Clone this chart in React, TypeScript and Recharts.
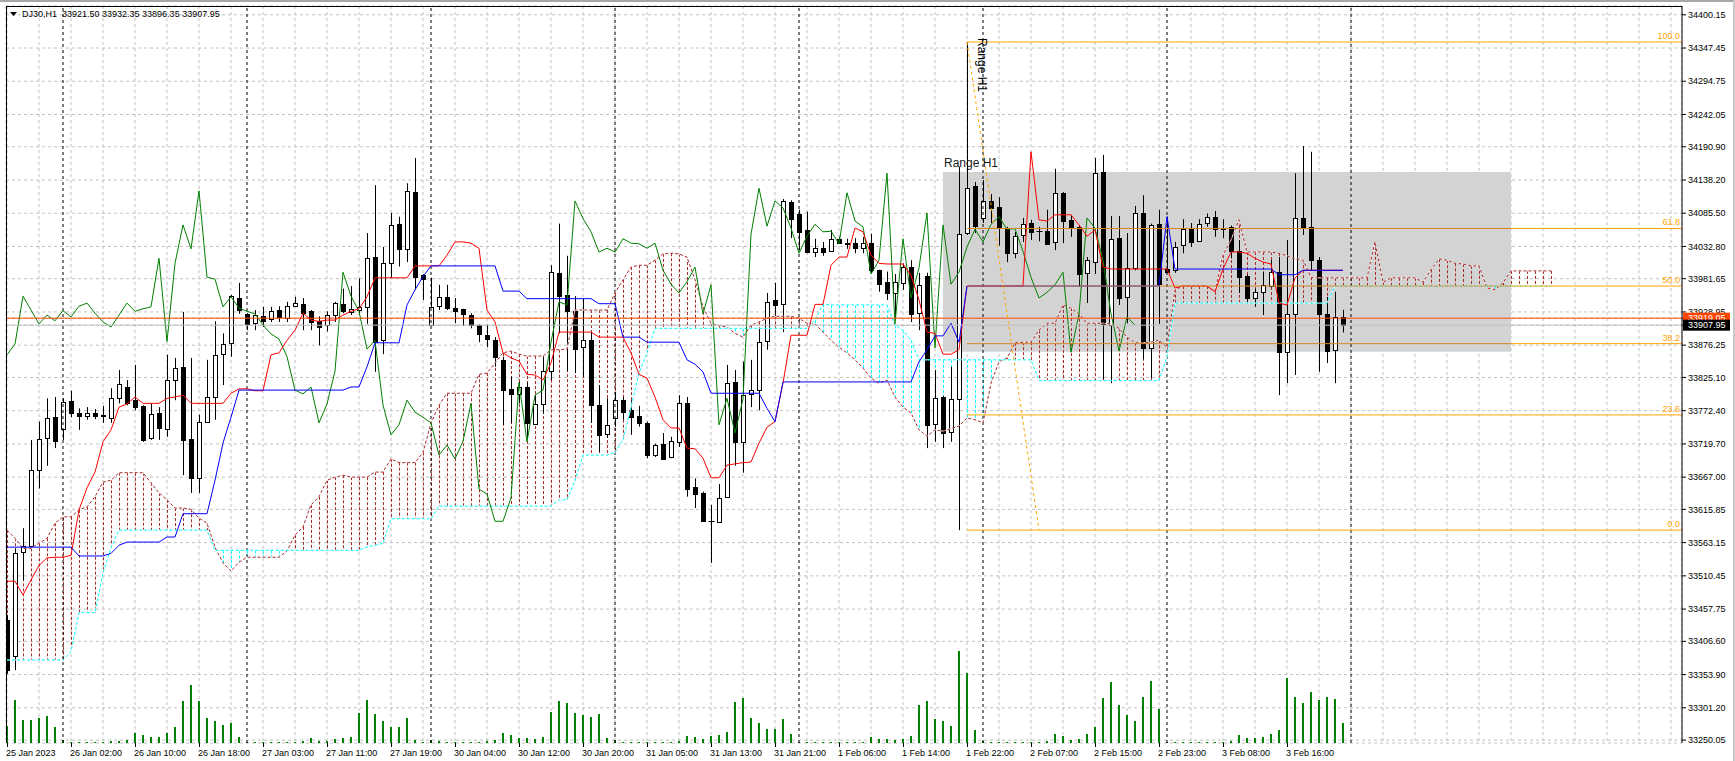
import React from 'react'
import {
  ComposedChart,
  Bar,
  Line,
  XAxis,
  YAxis,
  CartesianGrid,
  ReferenceLine,
  ReferenceArea,
  ReferenceDot,
} from 'recharts'

const FONT = '"Liberation Sans", Arial, sans-serif'

// one bar per hour, bar 0 = 25 Jan 17:00, last bar = 3 Feb 23:00
const opens = [
  33440, 33383, 33548, 33558, 33678, 33729, 33762, 33744, 33788, 33768,
  33764, 33768, 33765, 33761, 33792, 33810, 33789, 33780, 33729, 33768,
  33744, 33821, 33842, 33728, 33665, 33755, 33794, 33862, 33880, 33951,
  33926, 33911, 33922, 33918, 33932, 33919, 33938, 33941, 33930, 33914,
  33908, 33924, 33941, 33929, 33932, 33937, 34016, 33884, 34006, 34068,
  34028, 34119, 33987, 33908, 33938, 33953, 33935, 33934, 33924, 33908,
  33892, 33884, 33853, 33807, 33799, 33810, 33752, 33783, 33835, 33991,
  33956, 33930, 33873, 33884, 33781, 33736, 33761, 33789, 33773, 33764,
  33753, 33702, 33720, 33699, 33723, 33784, 33651, 33642, 33598, 33596,
  33636, 33818, 33723, 33799, 33805, 33883, 33948, 33942, 34103, 34085,
  34059, 34024, 34030, 34025, 34045, 34038, 34038, 34030, 34038, 33995,
  33977, 33959, 33975, 34000, 33927, 33986, 33752, 33794, 33739, 33791,
  34054, 34129, 34078, 34105, 34095, 34062, 34022, 34051, 34070, 34058,
  34057, 34040, 34118, 34075, 34064, 33991, 34008, 34151, 33908, 34046,
  33953, 33999, 34086, 33872, 34068, 33997, 33995, 34035, 34060, 34041,
  34070, 34080, 34062, 34064, 34025, 33986, 33951, 33960, 33970, 33992,
  33865, 33926, 34078, 34064, 34011, 33926, 33869, 33921.5,
]
const highs = [
  33448, 33554, 33586, 33726, 33755, 33792, 33794, 33792, 33804, 33776,
  33778, 33775, 33780, 33808, 33837, 33821, 33845, 33781, 33784, 33778,
  33861, 33856, 33929, 33856, 33766, 33853, 33914, 33895, 33956, 33975,
  33927, 33932, 33937, 33937, 33938, 33945, 33953, 33951, 33932, 33922,
  33930, 33945, 33966, 33970, 33982, 34054, 34130, 34032, 34086, 34080,
  34133, 34173, 33989, 33983, 33972, 33972, 33951, 33934, 33927, 33909,
  33909, 33889, 33858, 33826, 33818, 33817, 33797, 33858, 34003, 34069,
  34018, 33954, 33950, 33897, 33813, 33792, 33802, 33794, 33789, 33780,
  33755, 33720, 33737, 33731, 33797, 33794, 33665, 33644, 33623, 33656,
  33845, 33837, 33850, 33853, 33903, 33959, 33975, 34108, 34106, 34091,
  34088, 34045, 34040, 34059, 34048, 34045, 34046, 34048, 34053, 33996,
  33993, 33989, 34006, 34011, 33991, 33991, 33837, 33796, 33842, 34159,
  34357, 34135, 34138, 34116, 34111, 34064, 34056, 34078, 34075, 34064,
  34091, 34156, 34119, 34083, 34066, 34016, 34173, 34178, 34081, 34081,
  34054, 34097, 34114, 34069, 34091, 34080, 34040, 34076, 34070, 34076,
  34085, 34089, 34076, 34066, 34043, 33988, 33966, 33993, 34011, 34016,
  34043, 34149, 34192, 34183, 34016, 33953, 33961, 33932.35,
]
const lows = [
  33355, 33361, 33504, 33556, 33649, 33685, 33713, 33726, 33762, 33742,
  33758, 33759, 33753, 33753, 33784, 33781, 33773, 33723, 33726, 33726,
  33731, 33789, 33670, 33642, 33642, 33755, 33758, 33813, 33858, 33926,
  33900, 33900, 33905, 33913, 33913, 33913, 33937, 33900, 33900, 33876,
  33898, 33913, 33927, 33924, 33924, 33910, 33834, 33862, 33983, 34001,
  34008, 33964, 33948, 33907, 33932, 33932, 33911, 33907, 33903, 33881,
  33873, 33842, 33750, 33753, 33784, 33729, 33750, 33768, 33821, 33895,
  33835, 33832, 33826, 33753, 33707, 33729, 33747, 33758, 33734, 33747,
  33697, 33699, 33694, 33697, 33715, 33636, 33618, 33596, 33531, 33596,
  33634, 33685, 33674, 33778, 33773, 33869, 33921, 33897, 34046, 34027,
  34022, 34016, 34018, 34024, 34037, 34029, 34022, 34022, 33991, 33961,
  33948, 33919, 33964, 33913, 33900, 33713, 33723, 33713, 33723, 33583,
  34051, 34054, 34070, 34070, 34034, 34008, 34014, 34040, 34043, 34041,
  34035, 34027, 34038, 34048, 33969, 33943, 33989, 33822, 33816, 33940,
  33911, 33995, 33854, 33824, 33910, 33991, 33991, 34022, 34032, 34040,
  34064, 34048, 34046, 34014, 33959, 33945, 33937, 33924, 33968, 33797,
  33816, 33829, 34051, 33995, 33834, 33848, 33816, 33896.35,
]
const closes = [
  33361, 33546, 33558, 33678, 33728, 33761, 33724, 33786, 33768, 33764,
  33768, 33764, 33764, 33792, 33815, 33784, 33778, 33726, 33767, 33745,
  33821, 33840, 33726, 33665, 33755, 33794, 33861, 33878, 33954, 33932,
  33910, 33924, 33915, 33931, 33921, 33938, 33943, 33927, 33913, 33905,
  33924, 33943, 33930, 33934, 33937, 34014, 33882, 34006, 34067, 34029,
  34121, 33984, 33981, 33937, 33953, 33935, 33930, 33926, 33908, 33894,
  33886, 33858, 33805, 33799, 33810, 33753, 33783, 33835, 33992, 33954,
  33930, 33870, 33884, 33781, 33734, 33750, 33789, 33770, 33762, 33753,
  33702, 33718, 33696, 33724, 33784, 33648, 33640, 33597, 33597, 33634,
  33817, 33723, 33797, 33805, 33881, 33945, 33940, 34105, 34077, 34056,
  34024, 34030, 34024, 34045, 34038, 34037, 34030, 34038, 33995, 33973,
  33959, 33977, 34000, 33926, 33972, 33750, 33792, 33737, 33791, 34052,
  34125, 34065, 34105, 34094, 34062, 34022, 34049, 34068, 34056, 34057,
  34037, 34118, 34073, 34064, 33989, 34011, 34149, 33910, 34045, 33951,
  33999, 34086, 33872, 34067, 33973, 33992, 34032, 34060, 34040, 34068,
  34080, 34060, 34061, 34025, 33984, 33951, 33960, 33972, 33992, 33865,
  33926, 34078, 34062, 34011, 33926, 33867, 33921, 33907.95,
]
const volumes = [
  425, 1075, 575, 575, 625, 675, 400, 75, 25, 25,
  25, 25, 25, 50, 50, 75, 250, 200, 150, 150,
  250, 400, 1050, 1450, 1050, 625, 550, 450, 500, 150,
  25, 25, 25, 25, 25, 25, 25, 50, 125, 50,
  50, 100, 125, 150, 750, 1075, 725, 550, 400, 400,
  625, 75, 25, 75, 50, 25, 25, 25, 25, 25,
  50, 75, 250, 200, 125, 125, 100, 150, 775, 1050,
  1000, 750, 700, 650, 725, 125, 75, 25, 25, 25,
  25, 25, 25, 25, 50, 175, 150, 100, 175, 200,
  275, 1025, 1125, 625, 500, 350, 350, 600, 225, 25,
  25, 25, 25, 25, 25, 25, 25, 25, 150, 100,
  100, 75, 100, 175, 950, 1050, 600, 550, 425, 2300,
  1750, 325, 50, 25, 25, 25, 25, 25, 25, 25,
  50, 225, 175, 75, 100, 225, 400, 1125, 1525, 950,
  700, 550, 1150, 1550, 850, 25, 25, 25, 25, 25,
  25, 25, 25, 50, 200, 125, 125, 150, 225, 325,
  1625, 1150, 1000, 1275, 1075, 1150, 1100, 500,
]

// Ichimoku
const tenkan = [
  33502, 33502, 33480, 33504, 33527, 33539, 33540, 33540, 33543, 33615,
  33650, 33675, 33723, 33742, 33778, 33783, 33794, 33784, 33784, 33784,
  33792, 33794, 33797, 33784, 33784, 33784, 33784, 33784, 33800, 33807,
  33807, 33804, 33804, 33861, 33864, 33884, 33900, 33927, 33916, 33914,
  33916, 33916, 33924, 33930, 33934, 33953, 33983, 33983, 33983, 33983,
  33983, 34002, 34002, 34002, 34002, 34019, 34040, 34040, 34038, 34030,
  33932, 33913, 33864, 33856, 33851, 33830, 33829, 33821, 33848, 33897,
  33897, 33897, 33897, 33897, 33889, 33889, 33889, 33889, 33864, 33830,
  33824, 33794, 33758, 33745, 33745, 33713, 33712, 33697, 33666, 33666,
  33686, 33688, 33690, 33691, 33721, 33746, 33755, 33816, 33892, 33892,
  33892, 33941, 33941, 34003, 34016, 34016, 34062, 34056, 34019, 34006,
  34005, 34005, 34005, 33987, 33948, 33897, 33895, 33862, 33862, 33869,
  33970, 33970, 33970, 33970, 33970, 33970, 33970, 33970, 34183, 34075,
  34073, 34083, 34083, 34083, 34067, 34049, 34059, 34000, 33997, 33997,
  33997, 33997, 33997, 33997, 33997, 33997, 33967, 33970, 33970, 33970,
  33970, 33961, 33997, 34024, 34024, 34022, 34014, 34008, 34005, 33943,
  33940, 33983, 33995, 33995, 33995, 33995, 33995, 33995,
]
const kijun = [
  33556, 33556, 33556, 33556, 33556, 33556, 33556, 33556, 33556, 33542,
  33542, 33542, 33542, 33546, 33559, 33564, 33564, 33564, 33564, 33564,
  33572, 33572, 33609, 33609, 33609, 33609, 33662, 33721, 33762, 33805,
  33805, 33805, 33805, 33805, 33805, 33805, 33805, 33805, 33805, 33805,
  33805, 33805, 33805, 33810, 33810, 33842, 33880, 33880, 33880, 33880,
  33940, 33964, 33985, 34002, 34002, 34002, 34002, 34002, 34002, 34002,
  34002, 34002, 33962, 33962, 33962, 33950, 33950, 33950, 33950, 33950,
  33950, 33950, 33950, 33950, 33942, 33942, 33942, 33889, 33889, 33889,
  33881, 33881, 33881, 33881, 33881, 33853, 33846, 33834, 33800, 33800,
  33800, 33800, 33800, 33800, 33800, 33776, 33755, 33818, 33818, 33818,
  33818, 33818, 33818, 33818, 33818, 33818, 33818, 33818, 33818, 33818,
  33818, 33818, 33818, 33818, 33850, 33869, 33891, 33891, 33911, 33881,
  33970, 33970, 33970, 33970, 33970, 33970, 33970, 33970, 33970, 33970,
  33970, 33970, 33970, 33970, 33970, 33970, 33970, 33970, 33970, 33970,
  33970, 33970, 33970, 33970, 33970, 34080, 33997, 33997, 33997, 33997,
  33997, 33997, 33997, 33997, 33997, 33997, 33997, 33997, 33997, 33988,
  33988, 33988, 33995, 33995, 33995, 33995, 33995, 33995,
]
// senkou spans run 26 bars past the last candle
const spanA = [
  33583, 33570, 33554, 33554, 33562, 33570, 33594, 33604, 33604, 33615,
  33620, 33636, 33659, 33662, 33674, 33674, 33674, 33674, 33658, 33642,
  33631, 33618, 33618, 33616, 33602, 33594, 33556, 33531, 33518, 33532,
  33540, 33540, 33540, 33540, 33540, 33550, 33575, 33588, 33623, 33636,
  33662, 33667, 33670, 33667, 33667, 33667, 33675, 33675, 33696, 33690,
  33690, 33690, 33706, 33753, 33781, 33800, 33800, 33800, 33800, 33830,
  33832, 33848, 33864, 33867, 33862, 33859, 33859, 33859, 33869, 33869,
  33870, 33932, 33932, 33932, 33932, 33932, 33959, 33980, 34000, 34003,
  34003, 34011, 34021, 34022, 34021, 34016, 33980, 33937, 33911, 33907,
  33905, 33895, 33889, 33908, 33913, 33919, 33922, 33922, 33922, 33919,
  33911, 33910, 33897, 33884, 33873, 33864, 33853, 33840, 33824, 33816,
  33821, 33794, 33778, 33769, 33742, 33732, 33742, 33740, 33744, 33748,
  33761, 33758, 33753, 33816, 33850, 33856, 33880, 33881, 33881, 33900,
  33911, 33911, 33940, 33935, 33926, 33911, 33911, 33911, 33910, 33903,
  33889, 33880, 33880, 33881, 33884, 33873, 33964, 33970, 33970, 33970,
  33970, 33961, 34019, 34043, 34075, 34024, 34024, 34024, 34024, 34022,
  34018, 34013, 34011, 33984, 33983, 33983, 33983, 33983, 33983, 33983,
  33983, 34040, 33976, 33983, 33983, 33983, 33983, 33976, 33996, 34013,
  34011, 34006, 34005, 34002, 34002, 33967, 33964, 33975, 33994, 33994,
  33994, 33994, 33994, 33994,
]
const spanB = [
  33377, 33377, 33377, 33377, 33377, 33377, 33377, 33377, 33390, 33452,
  33452, 33452, 33515, 33555, 33583, 33583, 33583, 33583, 33583, 33583,
  33583, 33583, 33583, 33583, 33583, 33583, 33551, 33551, 33551, 33551,
  33551, 33551, 33551, 33551, 33551, 33551, 33551, 33551, 33551, 33551,
  33551, 33551, 33551, 33551, 33551, 33556, 33559, 33562, 33601, 33601,
  33601, 33601, 33601, 33601, 33621, 33621, 33621, 33621, 33621, 33621,
  33621, 33621, 33621, 33621, 33621, 33621, 33621, 33621, 33621, 33631,
  33631, 33662, 33702, 33702, 33702, 33702, 33706, 33726, 33778, 33832,
  33864, 33903, 33903, 33903, 33903, 33903, 33903, 33903, 33903, 33903,
  33903, 33903, 33903, 33903, 33903, 33903, 33903, 33903, 33903, 33903,
  33903, 33916, 33941, 33940, 33940, 33940, 33940, 33940, 33940, 33940,
  33940, 33908, 33900, 33884, 33853, 33853, 33853, 33853, 33853, 33853,
  33853, 33853, 33853, 33853, 33853, 33853, 33853, 33853, 33853, 33820,
  33820, 33820, 33820, 33820, 33820, 33820, 33820, 33820, 33820, 33820,
  33820, 33820, 33820, 33820, 33820, 33858, 33943, 33943, 33943, 33943,
  33943, 33943, 33943, 33943, 33943, 33943, 33943, 33943, 33943, 33943,
  33943, 33943, 33943, 33943, 33943, 33943, 33970, 33970, 33970, 33970,
  33970, 33970, 33970, 33970, 33970, 33970, 33970, 33970, 33970, 33970,
  33970, 33970, 33970, 33970, 33970, 33970, 33970, 33970, 33970, 33970,
  33970, 33970, 33970, 33970,
]

const labelBars = [0, 8, 16, 24, 32, 40, 48, 56, 64, 72, 80, 88, 96, 104, 112, 120, 128, 136, 144, 152, 160]
const timeLabels = [
  '25 Jan 2023', '26 Jan 02:00', '26 Jan 10:00', '26 Jan 18:00', '27 Jan 03:00', '27 Jan 11:00',
  '27 Jan 19:00', '30 Jan 04:00', '30 Jan 12:00', '30 Jan 20:00', '31 Jan 05:00', '31 Jan 13:00',
  '31 Jan 21:00', '1 Feb 06:00', '1 Feb 14:00', '1 Feb 22:00', '2 Feb 07:00', '2 Feb 15:00',
  '2 Feb 23:00', '3 Feb 08:00', '3 Feb 16:00',
]
const daySeparators = [7, 30, 53, 76, 99, 122, 145, 168]
const priceTicks = [
  34400.15, 34347.45, 34294.75, 34242.05, 34190.9, 34138.2, 34085.5, 34032.8, 33981.65, 33928.95,
  33876.25, 33825.1, 33772.4, 33719.7, 33667.0, 33615.85, 33563.15, 33510.45, 33457.75, 33406.6,
  33353.9, 33301.2, 33250.05,
]
const LINE_PRICE = 33919.05
const BID = 33907.95

// fibonacci drawn from bar 119 low to bar 120 high
const FIB_LOW = 33583
const FIB_HIGH = 34357
const FIB_START = 120
const FIB_DIAG_END = 129
const fibLevels = [100, 61.8, 50, 38.2, 23.6, 0]
const RANGE_BARS = [117, 188]
const RANGE_PRICES = [33866, 34151]

const CHART_W = 1735
const CHART_H = 761
const AXIS_H = 18
const AXIS_W = 53
const PLOT_BOTTOM = CHART_H - AXIS_H

const X_MIN = -0.125
const X_MAX = 209.375
const P_MIN = 33245.4
const P_MAX = 34414.1
const VOL_MAX = 18425

const BROWN = '#a52a2a'
const CYAN = '#00ffff'
const ORANGE = '#ffa500'

const gridBars = Array.from({ length: 53 }, (_, k) => k * 4)
const yTicks = [...priceTicks.slice(0, 10), LINE_PRICE, BID, ...priceTicks.slice(10)]

const rows = spanA.map((sa, i) => ({
  i,
  o: opens[i] ?? null,
  h: highs[i] ?? null,
  l: lows[i] ?? null,
  c: closes[i] ?? null,
  v: volumes[i] ?? null,
  t: tenkan[i] ?? null,
  k: kijun[i] ?? null,
  ch: closes[i + 26] ?? null,
  sa,
  sb: spanB[i],
}))

function Candle(props: any) {
  const { x, y, width, height, payload } = props
  if (payload.h == null || !Number.isFinite(height) || height <= 0) return <g />
  const cx = Math.round(x + width / 2) + 0.5
  const k = height / (payload.h - payload.l)
  const top = Math.round(y + (payload.h - Math.max(payload.o, payload.c)) * k) + 0.5
  const bot = Math.round(y + (payload.h - Math.min(payload.o, payload.c)) * k) + 0.5
  const bull = payload.c > payload.o
  return (
    <g>
      <line x1={cx} x2={cx} y1={y} y2={y + height} stroke="#000" />
      {bot - top < 1 ? (
        <line x1={cx - 3} x2={cx + 3} y1={top} y2={top} stroke="#000" />
      ) : (
        <rect x={cx - 2} y={top} width={4} height={bot - top} fill={bull ? '#fff' : '#000'} stroke="#000" />
      )}
    </g>
  )
}

function Hatch(props: any) {
  const { x, y, width, height, payload } = props
  if (!Number.isFinite(height) || height < 1) return <g />
  const cx = Math.round(x + width / 2) + 0.5
  return (
    <line
      x1={cx}
      x2={cx}
      y1={y}
      y2={y + height}
      stroke={payload.sa >= payload.sb ? BROWN : CYAN}
      strokeDasharray="3 2"
    />
  )
}

function TimeTick(props: any) {
  const { x, payload } = props
  const idx = labelBars.indexOf(payload.value)
  if (idx < 0) return <g />
  return (
    <g>
      <line x1={x + 0.5} x2={x + 0.5} y1={PLOT_BOTTOM} y2={PLOT_BOTTOM + 4} stroke="#000" />
      <text x={x - 1} y={PLOT_BOTTOM + 13} fontSize={9} fontFamily={FONT} fill="#000">
        {timeLabels[idx]}
      </text>
    </g>
  )
}

function PriceTick(props: any) {
  const { x, y, payload } = props
  const v = payload.value
  if (v === LINE_PRICE || v === BID) {
    return (
      <g>
        <rect x={x - 5} y={y - 5.5} width={47} height={11} fill={v === BID ? '#000' : '#ff4500'} />
        <text x={x} y={y} dy="0.35em" fontSize={9} fontFamily={FONT} fill="#fff">
          {v.toFixed(2)}
        </text>
      </g>
    )
  }
  return (
    <text x={x} y={y} dy="0.35em" fontSize={9} fontFamily={FONT} fill="#000">
      {v.toFixed(2)}
    </text>
  )
}

const fibPrice = (lvl: number) => FIB_LOW + ((FIB_HIGH - FIB_LOW) * lvl) / 100

export default function App() {
  return (
    <div style={{ position: 'absolute', left: 0, top: 0, width: CHART_W, height: CHART_H, background: '#fff' }}>
      <ComposedChart width={CHART_W} height={CHART_H} data={rows} margin={{ top: 6, right: 0, bottom: 0, left: 6 }}>
        <XAxis
          xAxisId="x"
          dataKey="i"
          type="number"
          domain={[X_MIN, X_MAX]}
          allowDataOverflow
          ticks={gridBars}
          interval={0}
          height={AXIS_H}
          tickSize={4}
          tickMargin={0}
          tickLine={false}
          axisLine={{ stroke: '#000' }}
          tick={(p: any) => <TimeTick {...p} />}
        />
        <XAxis xAxisId="cloud" dataKey="i" type="number" domain={[X_MIN, X_MAX]} allowDataOverflow hide />
        <XAxis xAxisId="vol" dataKey="i" type="number" domain={[X_MIN, X_MAX]} allowDataOverflow hide />
        <YAxis
          yAxisId="p"
          orientation="right"
          type="number"
          domain={[P_MIN, P_MAX]}
          allowDataOverflow
          ticks={yTicks}
          interval={0}
          width={AXIS_W}
          tickSize={4}
          tickMargin={2}
          axisLine={{ stroke: '#000' }}
          tickLine={{ stroke: '#000' }}
          tick={(p: any) => <PriceTick {...p} />}
        />
        <YAxis yAxisId="vol" type="number" domain={[0, VOL_MAX]} allowDataOverflow hide />

        <ReferenceArea
          xAxisId="x"
          yAxisId="p"
          x1={RANGE_BARS[0]}
          x2={RANGE_BARS[1]}
          y1={RANGE_PRICES[0]}
          y2={RANGE_PRICES[1]}
          fill="#d3d3d3"
          fillOpacity={1}
          stroke="none"
        />
        <CartesianGrid xAxisId="x" yAxisId="p" stroke="#c0c0c0" strokeDasharray="3 3" />
        {daySeparators.map((b) => (
          <ReferenceLine key={`sep-${b}`} xAxisId="x" yAxisId="p" x={b} stroke="#000" strokeDasharray="3 3" />
        ))}

        <Bar
          xAxisId="cloud"
          yAxisId="p"
          dataKey={(d: any) => [Math.min(d.sa, d.sb), Math.max(d.sa, d.sb)]}
          barSize={3}
          shape={(p: any) => <Hatch {...p} />}
          isAnimationActive={false}
        />
        <Bar xAxisId="vol" yAxisId="vol" dataKey="v" barSize={2} fill="#008000" isAnimationActive={false} />
        <Bar
          xAxisId="x"
          yAxisId="p"
          dataKey={(d: any) => (d.h == null ? null : [d.l, d.h])}
          barSize={5}
          shape={(p: any) => <Candle {...p} />}
          isAnimationActive={false}
        />

        <Line xAxisId="x" yAxisId="p" dataKey="sa" stroke="#fff" dot={false} isAnimationActive={false} />
        <Line xAxisId="x" yAxisId="p" dataKey="sa" stroke={BROWN} strokeDasharray="3 2" dot={false} isAnimationActive={false} />
        <Line xAxisId="x" yAxisId="p" dataKey="sb" stroke="#fff" dot={false} isAnimationActive={false} />
        <Line xAxisId="x" yAxisId="p" dataKey="sb" stroke={CYAN} strokeDasharray="3 2" dot={false} isAnimationActive={false} />
        <Line xAxisId="x" yAxisId="p" dataKey="ch" stroke="#008000" dot={false} isAnimationActive={false} />
        <Line xAxisId="x" yAxisId="p" dataKey="t" stroke="#ff0000" dot={false} isAnimationActive={false} />
        <Line xAxisId="x" yAxisId="p" dataKey="k" stroke="#0000ff" dot={false} isAnimationActive={false} />

        <ReferenceLine xAxisId="x" yAxisId="p" y={LINE_PRICE} stroke="#ff4500" />
        <ReferenceLine xAxisId="x" yAxisId="p" y={BID} stroke="#c0c0c0" />

        {fibLevels.map((lvl) => {
          const p = fibPrice(lvl)
          const inside = p > RANGE_PRICES[0] && p < RANGE_PRICES[1]
          return (
            <React.Fragment key={`fib-${lvl}`}>
              <ReferenceLine
                xAxisId="x"
                yAxisId="p"
                segment={[{ x: FIB_START, y: p }, { x: RANGE_BARS[1], y: p }]}
                stroke={inside ? '#d4872a' : ORANGE}
              />
              <ReferenceLine
                xAxisId="x"
                yAxisId="p"
                segment={[{ x: RANGE_BARS[1], y: p }, { x: X_MAX, y: p }]}
                stroke={ORANGE}
              />
              <ReferenceDot
                xAxisId="x"
                yAxisId="p"
                x={X_MAX}
                y={p}
                r={0}
                ifOverflow="visible"
                shape={(s: any) => (
                  <text x={s.cx - 2} y={s.cy - 3} textAnchor="end" fontSize={9} fontFamily={FONT} fill={ORANGE}>
                    {lvl.toFixed(1)}
                  </text>
                )}
              />
            </React.Fragment>
          )
        })}
        <ReferenceLine
          xAxisId="x"
          yAxisId="p"
          segment={[{ x: FIB_START, y: FIB_HIGH }, { x: FIB_DIAG_END, y: FIB_LOW }]}
          stroke={ORANGE}
          strokeDasharray="3 3"
        />
        <ReferenceDot
          xAxisId="x"
          yAxisId="p"
          x={FIB_START}
          y={FIB_HIGH}
          r={0}
          ifOverflow="visible"
          shape={(s: any) => (
            <text
              x={s.cx + 11}
              y={s.cy - 4}
              transform={`rotate(90 ${s.cx + 11} ${s.cy - 4})`}
              fontSize={12}
              fontFamily={FONT}
              fill="#000"
            >
              Range H1
            </text>
          )}
        />
        <ReferenceDot
          xAxisId="x"
          yAxisId="p"
          x={RANGE_BARS[0]}
          y={RANGE_PRICES[1]}
          r={0}
          ifOverflow="visible"
          shape={(s: any) => (
            <text x={s.cx + 1} y={s.cy - 5} fontSize={12} fontFamily={FONT} fill="#1a1a1a">
              Range H1
            </text>
          )}
        />
      </ComposedChart>

      <div style={{ position: 'absolute', left: 6, top: 6, width: CHART_W - AXIS_W - 6, height: PLOT_BOTTOM - 6, borderLeft: '1px solid #000', borderTop: '1px solid #000', pointerEvents: 'none', boxSizing: 'border-box' }} />
      <div style={{ position: 'absolute', left: 0, top: 0, width: CHART_W, height: 2, background: '#a8a8a8' }} />
      <div style={{ position: 'absolute', right: 0, top: 0, width: 2, height: CHART_H, background: '#c8c8c8' }} />
      <svg style={{ position: 'absolute', left: 10, top: 12 }} width={8} height={6}>
        <polygon points="0,0 7,0 3.5,4" fill="#000" />
      </svg>
      <div
        style={{
          position: 'absolute',
          left: 22,
          top: 9,
          fontFamily: FONT,
          fontSize: 9,
          lineHeight: '11px',
          color: '#000',
          whiteSpace: 'pre',
        }}
      >
        {'DJ30,H1  33921.50 33932.35 33896.35 33907.95'}
      </div>
    </div>
  )
}
